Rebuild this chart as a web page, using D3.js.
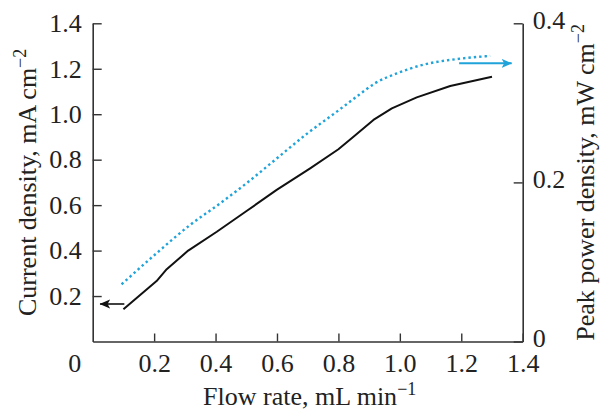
<!DOCTYPE html>
<html>
<head>
<meta charset="utf-8">
<script src="https://cdn.jsdelivr.net/npm/d3@7"></script>
<style>
  body { margin: 0; background: #fff; }
  text { font-family: "Liberation Serif", "DejaVu Serif", serif; fill: #222; }
</style>
</head>
<body>
<div id="chart"></div>
<script>
// chart size
var xSize = 600; var ySize = 412;
const margin = {left: 92.7, right: 77.3, top: 23.3, bottom: 70.5};
const xMax = xSize - margin.left - margin.right;
const yMax = ySize - margin.top - margin.bottom;

// data
const flowCurrent = [0.10, 0.208, 0.241, 0.311, 0.404, 0.501, 0.599, 0.708, 0.80, 0.849, 0.914, 0.974, 1.055, 1.164, 1.30];
const currentDensity = [0.142, 0.266, 0.318, 0.40, 0.483, 0.574, 0.667, 0.762, 0.846, 0.901, 0.975, 1.026, 1.074, 1.124, 1.165];

const flowPower = [0.094, 0.208, 0.317, 0.415, 0.501, 0.599, 0.697, 0.795, 0.860, 0.919, 0.990, 1.077, 1.185, 1.294];
const powerDensity = [0.0719, 0.111, 0.1465, 0.1737, 0.199, 0.230, 0.261, 0.289, 0.308, 0.3246, 0.337, 0.348, 0.355, 0.359];

// axis ticks
const xTicks = [0.2, 0.4, 0.6, 0.8, 1.0, 1.2, 1.4];
const yLeftTicks = [0.2, 0.4, 0.6, 0.8, 1.0, 1.2, 1.4];
const yRightTicks = [0, 0.2, 0.4];

// arrows pointing at each series' axis (data units)
const arrowLeft = {x0: 0.103, x1: 0.024, y: 0.165};
const arrowRight = {x0: 1.193, x1: 1.364, y: 0.3497};

const blue = "#1fa3d9";
const axisColor = "#333";
const fontSize = 26;

const svg = d3.select("#chart")
  .append("svg")
  .attr("width", xSize)
  .attr("height", ySize);

const defs = svg.append("defs");
function addMarker(id, color) {
  defs.append("marker")
    .attr("id", id)
    .attr("markerUnits", "userSpaceOnUse")
    .attr("viewBox", "0 -5 11 10")
    .attr("refX", 10).attr("refY", 0)
    .attr("markerWidth", 11).attr("markerHeight", 10)
    .attr("orient", "auto")
    .append("path")
    .attr("d", "M0,-4.5L10.5,0L0,4.5L2.5,0Z")
    .attr("fill", color);
}
addMarker("arrowBlack", "#111");
addMarker("arrowBlue", blue);

const g = svg.append("g")
  .attr("transform", "translate(" + margin.left + "," + margin.top + ")");

// scales
const x = d3.scaleLinear().domain([0, 1.4]).range([0, xMax]);
const yL = d3.scaleLinear().domain([0, 1.4]).range([yMax, 0]);
const yR = d3.scaleLinear().domain([0, 0.4]).range([yMax, 0]);

const fmt = d3.format(".1f");

// bottom axis
const xAxis = g.append("g")
  .attr("transform", "translate(0," + yMax + ")")
  .call(d3.axisBottom(x).tickValues(xTicks).tickFormat(fmt).tickSize(-8).tickSizeOuter(0).tickPadding(12));

// left axis
const yAxisL = g.append("g")
  .call(d3.axisLeft(yL).tickValues(yLeftTicks).tickFormat(fmt).tickSize(-9).tickSizeOuter(0).tickPadding(11));

// right axis
const yAxisR = g.append("g")
  .attr("transform", "translate(" + xMax + ",0)")
  .call(d3.axisRight(yR).tickValues(yRightTicks).tickFormat(function(d){ return d === 0 ? "0" : fmt(d); })
    .tickSize(-9).tickSizeOuter(0).tickPadding(10));

[xAxis, yAxisL, yAxisR].forEach(function(a){
  a.select(".domain").attr("stroke", axisColor).attr("stroke-width", 1.6);
  a.selectAll(".tick line").attr("stroke", axisColor).attr("stroke-width", 1.4);
  a.selectAll(".tick text")
    .attr("fill", "#222")
    .style("font-family", "'Liberation Serif', serif")
    .style("font-size", fontSize + "px");
});
// right labels sit a little above their ticks
yAxisR.selectAll(".tick text").attr("dy", "0.2em");

// shared origin label
g.append("text")
  .attr("x", x(0) - 18)
  .attr("y", yMax + 30.5)
  .attr("text-anchor", "middle")
  .style("font-size", fontSize + "px")
  .text("0");

// current density line
const currentData = flowCurrent.map(function(d, i){ return {x: d, y: currentDensity[i]}; });
g.append("path")
  .datum(currentData)
  .attr("fill", "none")
  .attr("stroke", "#111")
  .attr("stroke-width", 2)
  .attr("stroke-linejoin", "round")
  .attr("d", d3.line()
    .x(function(d) { return x(d.x) })
    .y(function(d) { return yL(d.y) })
  );

// peak power density dotted line
const powerData = flowPower.map(function(d, i){ return {x: d, y: powerDensity[i]}; });
g.append("path")
  .datum(powerData)
  .attr("fill", "none")
  .attr("stroke", blue)
  .attr("stroke-width", 2.4)
  .attr("stroke-dasharray", "2.4,3")
  .attr("d", d3.line()
    .x(function(d) { return x(d.x) })
    .y(function(d) { return yR(d.y) })
    .curve(d3.curveMonotoneX)
  );

// arrows
g.append("line")
  .attr("x1", x(arrowLeft.x0)).attr("x2", x(arrowLeft.x1))
  .attr("y1", yL(arrowLeft.y)).attr("y2", yL(arrowLeft.y))
  .attr("stroke", "#111").attr("stroke-width", 1.6)
  .attr("marker-end", "url(#arrowBlack)");

g.append("line")
  .attr("x1", x(arrowRight.x0)).attr("x2", x(arrowRight.x1))
  .attr("y1", yR(arrowRight.y)).attr("y2", yR(arrowRight.y))
  .attr("stroke", blue).attr("stroke-width", 2)
  .attr("marker-end", "url(#arrowBlue)");

// axis titles
const xTitle = svg.append("text")
  .attr("x", margin.left + xMax / 2 + 2)
  .attr("y", 405)
  .attr("text-anchor", "middle")
  .style("font-size", fontSize + "px");
xTitle.append("tspan").text("Flow rate, mL min");
xTitle.append("tspan").attr("dy", -10).style("font-size", "18px").text("\u22121");

const yTitleL = svg.append("text")
  .attr("transform", "translate(36," + (margin.top + yMax / 2) + ") rotate(-90)")
  .attr("text-anchor", "middle")
  .style("font-size", fontSize + "px");
yTitleL.append("tspan").text("Current density, mA cm");
yTitleL.append("tspan").attr("dy", -10).style("font-size", "18px").text("\u22122");

const yTitleR = svg.append("text")
  .attr("transform", "translate(594," + (margin.top + yMax / 2) + ") rotate(-90)")
  .attr("text-anchor", "middle")
  .style("font-size", fontSize + "px");
yTitleR.append("tspan").text("Peak power density, mW cm");
yTitleR.append("tspan").attr("dy", -10).style("font-size", "18px").text("\u22122");
</script>
</body>
</html>
